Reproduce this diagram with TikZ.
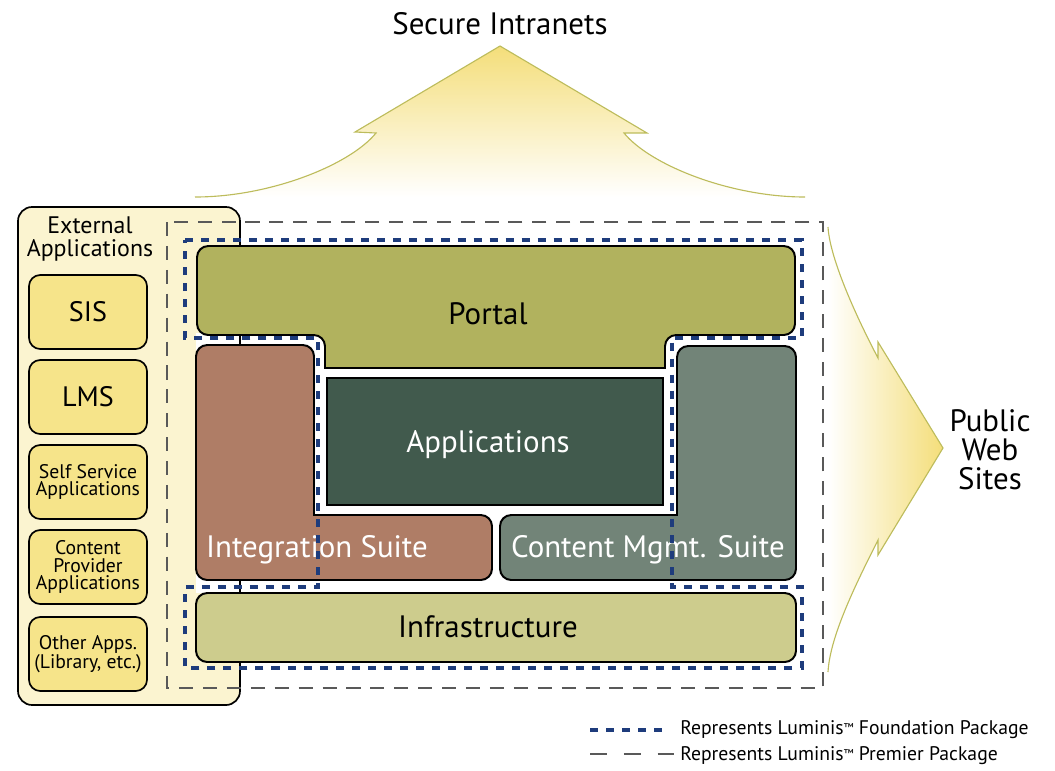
\documentclass[tikz,border=0pt]{standalone}
\usepackage{fontspec}
\setmainfont{PT Sans}
\definecolor{panelfill}{HTML}{FBF4D0}
\definecolor{extfill}{HTML}{F6E48A}
\definecolor{portalc}{HTML}{B1B25E}
\definecolor{integc}{HTML}{AF7D66}
\definecolor{appsc}{HTML}{415A4D}
\definecolor{cmsc}{HTML}{728478}
\definecolor{infrac}{HTML}{CDCC8D}
\definecolor{navy}{HTML}{1E3C7C}
\definecolor{gold}{HTML}{F4DE7A}
\definecolor{goldline}{HTML}{BDBC5C}
\newcommand{\tmark}{\raisebox{0.35ex}{\fontsize{8}{8}\selectfont ™}}
\tikzset{
  block/.style={draw=black,line width=1.4pt,rounded corners=8pt},
  extbox/.style={draw=black,line width=1.2pt,fill=extfill,rounded corners=8pt,
    minimum width=2.95cm,minimum height=1.85cm,align=center,inner sep=0pt},
  small/.style={font=\fontsize{14}{12.5}\selectfont},
  big/.style={font=\fontsize{22}{26}\selectfont},
  legendtext/.style={anchor=west,font=\fontsize{14}{14}\selectfont,inner sep=0pt},
  found/.style={navy,line width=2.8pt,dash pattern=on 5.7pt off 5.7pt},
  premier/.style={black!65,line width=0.9pt,dash pattern=on 10pt off 7pt},
  arrowline/.style={goldline,line width=0.8pt}
}
\begin{document}
\begin{tikzpicture}[x=0.025cm,y=-0.025cm]
\useasboundingbox (0,0) rectangle (1055,771);

% arrows out
\shade[top color=gold,bottom color=white] (500,46) -- (355,132) -- (376,133) .. controls (350,165) and (270,197) .. (195,197) -- (805,197) .. controls (730,197) and (650,165) .. (624,133) -- (647,133) -- cycle;
\draw[arrowline] (195,197) .. controls (270,197) and (350,165) .. (376,133) -- (355,132) -- (500,46) -- (647,133) -- (624,133) .. controls (650,165) and (730,197) .. (805,197);
\shade[left color=white,right color=gold] (828,227) .. controls (830,260) and (858,320) .. (878,358) -- (878,342) -- (943,448) -- (878,555) -- (878,540) .. controls (858,580) and (830,635) .. (828,672) -- cycle;
\draw[arrowline] (828,227) .. controls (830,260) and (858,320) .. (878,358) -- (878,342) -- (943,448) -- (878,555) -- (878,540) .. controls (858,580) and (830,635) .. (828,672);
\node[big] (intranet) at (500,24) {Secure Intranets};
\node[big,align=center,font=\fontsize{22}{20.6}\selectfont] (public) at (990,450) {Public\\Web\\Sites};

% external applications
\draw[black,line width=1.2pt,fill=panelfill,rounded corners=10pt] (18,207) rectangle (240,705);
\node[align=center,font=\fontsize{17}{16.4}\selectfont] (exttitle) at (90,239) {External\\Applications};
\node[extbox,font=\fontsize{20}{20}\selectfont] (sis) at (88,312) {SIS};
\node[extbox,font=\fontsize{20}{20}\selectfont] (lms) at (88,397) {LMS};
\node[extbox,small] (self) at (88,482) {Self Service\\Applications};
\node[extbox,small] (provider) at (88,567) {Content\\Provider\\Applications};
\node[extbox,small] (other) at (88,654) {Other Apps.\\(Library, etc.)};

% white gaps between the blocks
\fill[white] (196,333) rectangle (796,593);
\draw[black,line width=1.2pt] (240,333) -- (240,593);

% blocks
\draw[block,fill=portalc] (197,246) -- (795,246) -- (795,335) -- (665,335) [sharp corners] -- (665,368) -- (325,368) [rounded corners=8pt] -- (325,335) -- (197,335) -- cycle;
\draw[block,fill=integc] (196,345) -- (314,345) [sharp corners] -- (314,515) [rounded corners=8pt] -- (492,515) -- (492,580) -- (196,580) -- cycle;
\draw[block,fill=cmsc] (677,346) -- (796,346) -- (796,580) -- (500,580) -- (500,515) [sharp corners] -- (677,515) [rounded corners=8pt] -- cycle;
\draw[black,line width=1.4pt,fill=appsc] (327,378) rectangle (663,505);
\draw[block,fill=infrac] (196,593) rectangle (796,662);
\node[big] (portal) at (488,314) {Portal};
\node[big,white] (apps) at (488,445) {Applications};
\node[big,white] (integ) at (317,550) {Integration Suite};
\node[big,white] (cms) at (648,550) {Content Mgmt. Suite};
\node[big] (infra) at (488,627) {Infrastructure};

% packages
\draw[found] (185,240) -- (802,240) -- (802,338) -- (672,338) -- (672,587) -- (802,587) -- (802,668) -- (185,668) -- (185,587) -- (318,587) -- (318,338) -- (185,338) -- cycle;
\draw[premier] (167,222) rectangle (823,688);

% legend
\draw[found] (590,730) -- (669,730);
\node[legendtext] (foundtext) at (680,730) {Represents Luminis\tmark\ Foundation Package};
\draw[premier,line width=1.1pt,dash pattern=on 12pt off 12pt] (590,754) -- (678,754);
\node[legendtext] (premtext) at (680,756) {Represents Luminis\tmark\ Premier Package};
\end{tikzpicture}
\end{document}
